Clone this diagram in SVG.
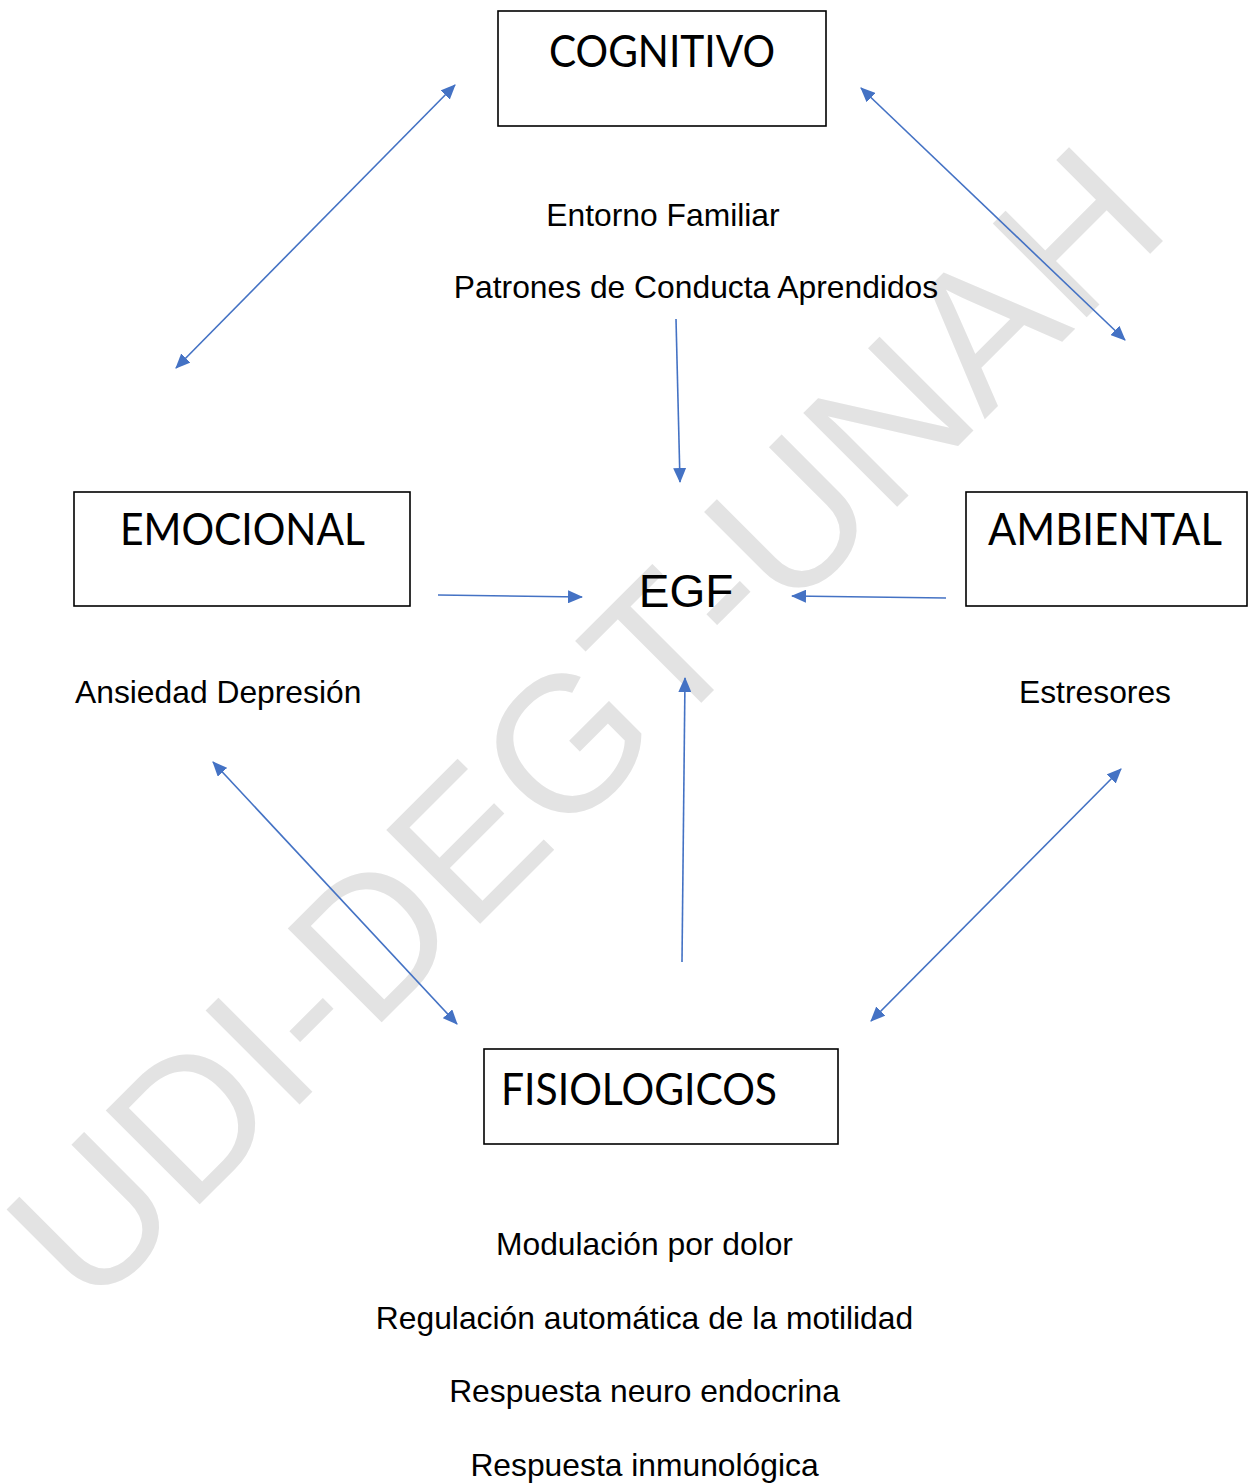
<svg xmlns="http://www.w3.org/2000/svg" width="1249" height="1484" viewBox="0 0 1249 1484">
  <style>
    .box { fill: none; stroke: #000; stroke-width: 1.6; }
    .title { font-family: Lato, "Liberation Sans", sans-serif; font-size: 44px; fill: #000; }
    .lbl { font-family: "Liberation Sans", Arial, sans-serif; font-size: 31.8px; fill: #000; }
    .egf { font-family: "Liberation Sans", Arial, sans-serif; font-size: 46px; fill: #000; }
    .wm { font-family: "Liberation Sans", Arial, sans-serif; font-size: 193px; fill: #e3e3e3; }
    .arr { stroke: #4472C4; stroke-width: 1.6; fill: none; }
  </style>
  <defs>
    <marker id="ah" viewBox="0 0 15 13" refX="14" refY="6.5" markerUnits="userSpaceOnUse" markerWidth="15" markerHeight="13" orient="auto-start-reverse">
      <path d="M0,0 L15,6.5 L0,13 z" fill="#4472C4"/>
    </marker>
  </defs>
  <rect width="1249" height="1484" fill="#fff"/>

  <g id="watermark">
    <text class="wm" x="632" y="772" text-anchor="middle" transform="rotate(-45 632 772)">UDI-DEGT-UNAH</text>
  </g>

  <g id="connectors">
    <line class="arr" x1="455" y1="85" x2="176" y2="368" marker-start="url(#ah)" marker-end="url(#ah)"/>
    <line class="arr" x1="861" y1="88" x2="1125" y2="340" marker-start="url(#ah)" marker-end="url(#ah)"/>
    <line class="arr" x1="676" y1="319" x2="680" y2="482" marker-end="url(#ah)"/>
    <line class="arr" x1="438" y1="595" x2="582" y2="597" marker-end="url(#ah)"/>
    <line class="arr" x1="946" y1="598" x2="792" y2="596" marker-end="url(#ah)"/>
    <line class="arr" x1="682" y1="962" x2="685" y2="678" marker-end="url(#ah)"/>
    <line class="arr" x1="213" y1="762" x2="457" y2="1024" marker-start="url(#ah)" marker-end="url(#ah)"/>
    <line class="arr" x1="1121" y1="769" x2="871" y2="1021" marker-start="url(#ah)" marker-end="url(#ah)"/>
  </g>

  <g id="node-cognitivo">
    <rect class="box" x="498" y="11" width="328" height="115"/>
    <text class="title" x="549" y="67" textLength="226" lengthAdjust="spacingAndGlyphs">COGNITIVO</text>
  </g>
  <g id="node-cognitivo-labels">
    <text class="lbl" x="663" y="226" text-anchor="middle">Entorno Familiar</text>
    <text class="lbl" x="696" y="298" text-anchor="middle">Patrones de Conducta Aprendidos</text>
  </g>

  <g id="node-emocional">
    <rect class="box" x="74" y="492" width="336" height="114"/>
    <text class="title" x="120" y="545" textLength="245" lengthAdjust="spacingAndGlyphs">EMOCIONAL</text>
  </g>
  <g id="node-emocional-label">
    <text class="lbl" x="75" y="703">Ansiedad Depresión</text>
  </g>

  <g id="node-egf">
    <text class="egf" x="686" y="607" text-anchor="middle">EGF</text>
  </g>

  <g id="node-ambiental">
    <rect class="box" x="966" y="492" width="281" height="114"/>
    <text class="title" x="988" y="545" textLength="234" lengthAdjust="spacingAndGlyphs">AMBIENTAL</text>
  </g>
  <g id="node-ambiental-label">
    <text class="lbl" x="1095" y="703" text-anchor="middle">Estresores</text>
  </g>

  <g id="node-fisiologicos">
    <rect class="box" x="484" y="1049" width="354" height="95"/>
    <text class="title" x="501" y="1105" textLength="276" lengthAdjust="spacingAndGlyphs">FISIOLOGICOS</text>
  </g>
  <g id="node-fisiologicos-labels">
    <text class="lbl" x="644.5" y="1255" text-anchor="middle">Modulación por dolor</text>
    <text class="lbl" x="644.5" y="1329" text-anchor="middle">Regulación automática de la motilidad</text>
    <text class="lbl" x="644.5" y="1402" text-anchor="middle">Respuesta neuro endocrina</text>
    <text class="lbl" x="644.5" y="1476" text-anchor="middle">Respuesta inmunológica</text>
  </g>
</svg>
